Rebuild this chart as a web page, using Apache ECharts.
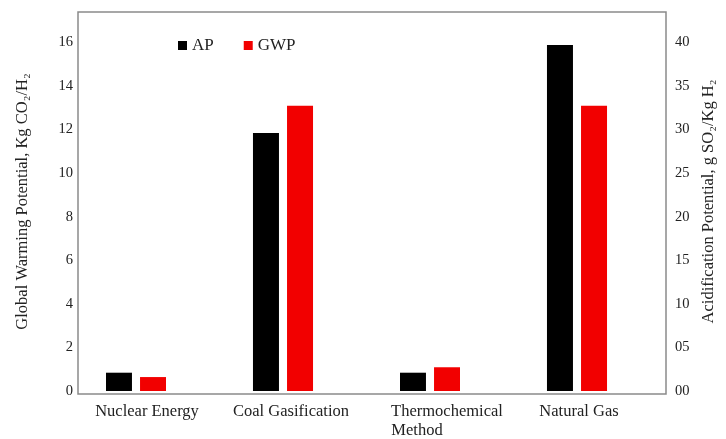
<!DOCTYPE html>
<html>
<head>
<meta charset="utf-8">
<script src="https://cdn.jsdelivr.net/npm/echarts@6/dist/echarts.min.js"></script>
<style>html,body{margin:0;padding:0;background:#fff}#c{width:726px;height:439px}</style>
</head>
<body>
<div id="c"></div>
<script>
const CATEGORIES = ['Nuclear Energy', 'Coal Gasification', 'Thermochemical Method', 'Natural Gas'];
const AP = [2.1, 29.6, 2.1, 39.7];      // g SO2/Kg H2 (right axis)
const GWP = [0.64, 13.1, 1.09, 13.1];   // Kg CO2/H2 (left axis)
const LEFT_TICKS = [0, 2, 4, 6, 8, 10, 12, 14, 16];
const RIGHT_TICKS = ['00', '05', '10', '15', '20', '25', '30', '35', '40'];

const FONT = '"Liberation Serif", "DejaVu Serif", serif';
const chart = echarts.init(document.getElementById('c'), null, {renderer: 'canvas'});

const labelShift = {
  'Nuclear Energy': '{a|Nuclear Energy}',
  'Coal Gasification': '{b|Coal Gasification}',
  'Thermochemical Method': '{c|Thermochemical}\n{m|Method}',
  'Natural Gas': '{d|Natural Gas}'
};
const lbl = {fontFamily: FONT, fontSize: 16.5, color: '#222', lineHeight: 19};

chart.setOption({
  animation: false,
  backgroundColor: '#fff',
  textStyle: {fontFamily: FONT},
  grid: [
    {left: 62.5, right: 75.5, top: 12, bottom: 45, show: false},
    {left: 78, right: 60, top: 12, bottom: 45, show: true, borderColor: '#8a8a8a', borderWidth: 1.5, backgroundColor: 'transparent'}
  ],
  legend: {
    data: ['AP', 'GWP'],
    left: 178, top: 37, padding: 0,
    icon: 'rect', itemWidth: 9, itemHeight: 9, itemGap: 30,
    textStyle: {fontFamily: FONT, fontSize: 17, color: '#222'}
  },
  xAxis: [
    {
      type: 'category', gridIndex: 0, data: CATEGORIES,
      axisLine: {show: false}, axisTick: {show: false},
      axisLabel: {
        interval: 0, margin: 11, fontFamily: FONT, fontSize: 16.5, color: '#222',
        verticalAlign: 'top',
        formatter: v => labelShift[v] || v,
        rich: {
          a: Object.assign({padding: [0, 0, 0, 22]}, lbl),
          b: Object.assign({padding: [0, 0, 0, 16]}, lbl),
          c: Object.assign({padding: [0, 0, 0, 34]}, lbl),
          m: Object.assign({padding: [0, 26, 0, 0]}, lbl),
          d: Object.assign({padding: [0, 0, 0, 4]}, lbl)
        }
      }
    },
    {type: 'value', gridIndex: 1, show: false}
  ],
  yAxis: [
    {
      type: 'value', gridIndex: 0, position: 'left', offset: -15.5,
      min: 0, max: 17.4, interval: 2,
      name: 'Global Warming Potential, Kg CO\u2082/H\u2082',
      nameLocation: 'middle', nameGap: 47, nameRotate: 90,
      nameTextStyle: {fontFamily: FONT, fontSize: 16.5, color: '#222'},
      axisLine: {show: false}, axisTick: {show: false}, splitLine: {show: false},
      axisLabel: {
        showMaxLabel: false, margin: 5, fontFamily: FONT, fontSize: 14.5, color: '#222',
        padding: [0, 0, 8, 0],
        formatter: v => (LEFT_TICKS.indexOf(v) >= 0 ? String(v) : '')
      }
    },
    {
      type: 'value', gridIndex: 0, position: 'right', offset: 15.5,
      min: 0, max: 43.5, interval: 5,
      name: 'Acidification Potential, g SO\u2082/Kg H\u2082',
      nameLocation: 'middle', nameGap: 31, nameRotate: 90,
      nameTextStyle: {fontFamily: FONT, fontSize: 16.5, color: '#222'},
      axisLine: {show: false}, axisTick: {show: false}, splitLine: {show: false},
      axisLabel: {
        showMaxLabel: false, margin: 9, fontFamily: FONT, fontSize: 14.5, color: '#222',
        padding: [0, 0, 8, 0],
        formatter: v => { const i = v / 5; return Number.isInteger(i) && RIGHT_TICKS[i] ? RIGHT_TICKS[i] : ''; }
      }
    },
    {type: 'value', gridIndex: 1, show: false}
  ],
  series: [
    {
      name: 'AP', type: 'bar', xAxisIndex: 0, yAxisIndex: 1, data: AP,
      barWidth: 26, barGap: '31%', itemStyle: {color: '#000000'}
    },
    {
      name: 'GWP', type: 'bar', xAxisIndex: 0, yAxisIndex: 0, data: GWP,
      barWidth: 26, barGap: '31%', itemStyle: {color: '#f20000'}
    }
  ]
});
</script>
</body>
</html>
